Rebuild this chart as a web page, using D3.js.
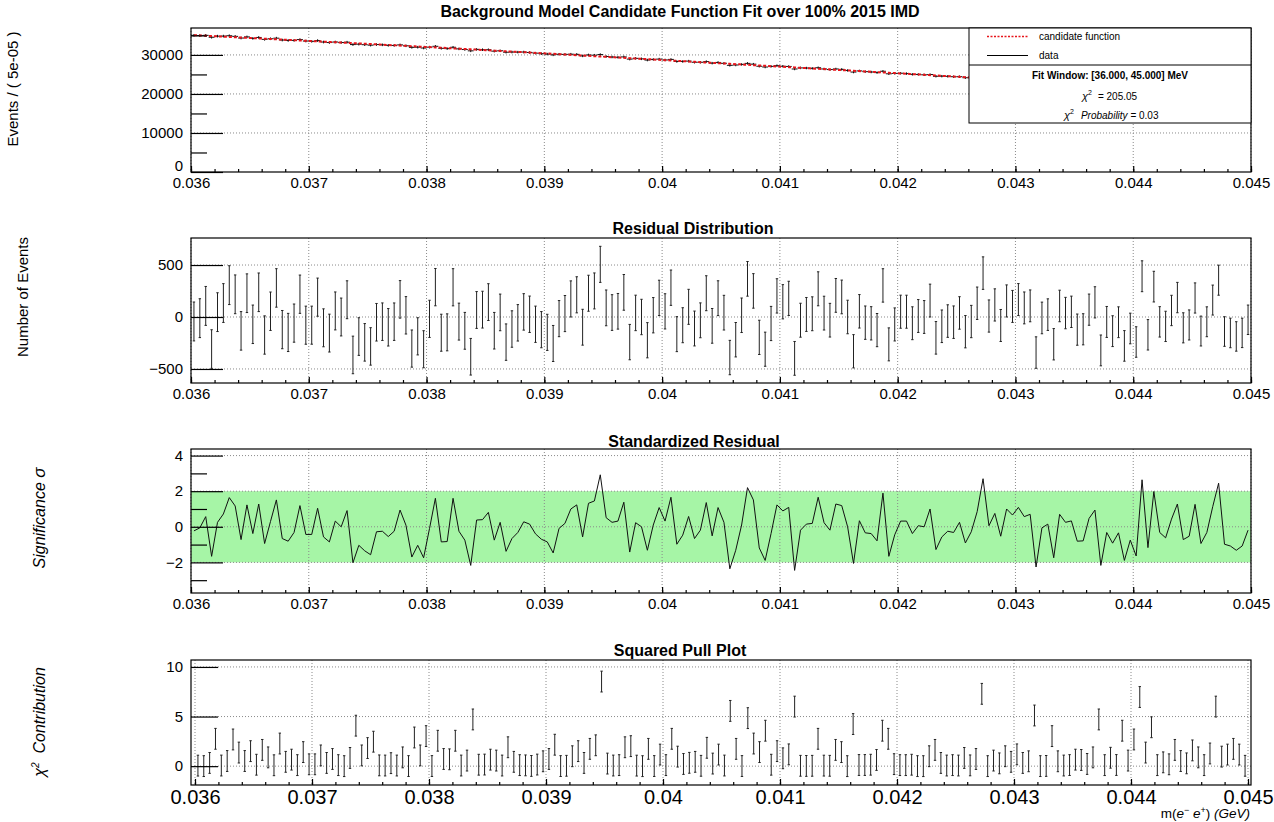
<!DOCTYPE html>
<html>
<head>
<meta charset="utf-8">
<script src="https://cdn.jsdelivr.net/npm/d3@7"></script>
<style>
  body { margin: 0; background: #fff; }
  text { font-family: "Liberation Sans", Arial, Helvetica, sans-serif; fill: #000; }
</style>
</head>
<body>
<div id="chart"></div>
<script>
// ---- data ----
const xMin = 0.036, xMax = 0.045, binWidth = 0.00005;

// events per bin (data), 180 bins of 5e-05 GeV
const counts = [
  35019, 34976, 35018, 34528, 34809, 34821, 34917, 34755, 34328, 34616, 34241, 34475, 33987, 34143, 34293, 33814, 33711, 33727, 33933, 33557,
  33483, 33672, 33303, 33175, 33309, 33174, 33261, 32653, 32753, 32620, 32502, 32658, 32586, 32454, 32431, 32569, 32337, 31936, 31978, 31774,
  31991, 32208, 31694, 31615, 31961, 31552, 31382, 31049, 31416, 31336, 31327, 30969, 31063, 30693, 30738, 30715, 30738, 30632, 30454, 30318,
  30213, 30022, 30173, 30135, 30189, 30143, 29751, 29989, 29926, 30092, 29595, 29466, 29393, 29489, 28925, 29122, 28998, 28687, 28845, 28928,
  28711, 28849, 28325, 28325, 28414, 28123, 28116, 28289, 27893, 28072, 27850, 27331, 27419, 27570, 27833, 27634, 27100, 26899, 27065, 27247,
  27101, 27048, 26394, 26672, 26642, 26564, 26715, 26400, 26247, 26399, 26300, 26023, 25606, 25908, 25713, 25622, 25471, 25817, 25161, 25271,
  25306, 25219, 25022, 25003, 24906, 24975, 24531, 24555, 24517, 24419, 24420, 24152, 24162, 24252, 24452, 23953, 23973, 23686, 23837, 23697,
  23671, 23505, 23437, 22903, 23147, 23092, 22718, 23000, 22844, 22769, 22509, 22425, 22527, 22511, 21953, 22146, 21967, 21968, 21646, 21731,
  21518, 22052, 21411, 21781, 21360, 21229, 21293, 21330, 20952, 20892, 21064, 20658, 20660, 20783, 20886, 20302, 20199, 20078, 20024, 20066
];

// standardized residual per bin (sigma)
const sigma = [
  -0.23, -0.06, 0.57, -1.66, 0.25, 0.72, 1.64, 1.17, -0.72, 1.23, -0.38, 1.28, -0.94, 0.30, 1.51, -0.66, -0.81, -0.32, 1.19, -0.43,
  -0.43, 1.04, -0.57, -0.85, 0.32, 0.00, 0.91, -2.02, -1.04, -1.35, -1.57, -0.28, -0.25, -0.55, -0.25, 0.94, 0.09, -1.70, -1.04, -1.74,
  -0.10, 1.60, -0.85, -0.83, 1.60, -0.25, -0.75, -2.17, 0.38, 0.40, 0.81, -0.75, 0.25, -1.38, -0.66, -0.32, 0.28, 0.15, -0.40, -0.70,
  -0.85, -1.47, -0.09, 0.19, 1.00, 1.23, -0.57, 1.32, 1.45, 2.92, 0.51, 0.25, 0.32, 1.38, -1.42, 0.23, 0.00, -1.32, 0.10, 1.08,
  0.32, 1.66, -0.98, -0.47, 0.58, -0.66, -0.19, 1.36, -0.51, 1.08, 0.25, -2.36, -1.32, 0.10, 2.20, 1.51, -1.19, -1.89, -0.38, 1.23,
  0.89, 1.09, -2.45, -0.19, 0.15, 0.19, 1.66, 0.23, -0.19, 1.28, 1.19, 0.00, -2.06, 0.34, -0.34, -0.38, -0.79, 1.89, -1.66, -0.45,
  0.32, 0.32, -0.38, 0.06, 0.00, 1.00, -1.28, -0.57, -0.25, -0.32, 0.25, -0.91, -0.28, 0.85, 2.70, 0.06, 0.75, -0.53, 1.00, 0.66,
  1.09, 0.57, 0.70, -2.26, -0.06, 0.15, -1.74, 0.70, 0.25, 0.33, -0.81, -0.79, 0.47, 0.94, -2.17, -0.32, -0.92, -0.34, -1.89, -0.75,
  -1.64, 2.64, -1.17, 1.98, -0.32, -0.62, 0.43, 1.28, -0.72, -0.53, 1.26, -0.94, -0.32, 1.13, 2.45, -0.98, -1.08, -1.32, -1.08, -0.19
];

const pullErr = 1.05;  // half length of the squared-pull error bars

const xTickValues = [0.036, 0.037, 0.038, 0.039, 0.040, 0.041, 0.042, 0.043, 0.044, 0.045];
const xTickLabels = ["0.036", "0.037", "0.038", "0.039", "0.04", "0.041", "0.042", "0.043", "0.044", "0.045"];

const fitYTicks = [0, 10000, 20000, 30000];
const fitYLabels = ["0", "10000", "20000", "30000"];
const fitYMinor = [5000, 15000, 25000, 35000];

const resYTicks = [-500, 0, 500];
const resYLabels = ["\u2212500", "0", "500"];

const sigYTicks = [-2, 0, 2, 4];
const sigYLabels = ["\u22122", "0", "2", "4"];
const sigYMinor = [-3, -1, 1, 3];

const pullYTicks = [0, 5, 10];
const pullYLabels = ["0", "5", "10"];

// ---- derived per-bin records ----
const bins = counts.map((c, i) => {
  const err = Math.sqrt(c);
  const res = sigma[i] * err;
  return {
    lo: xMin + i * binWidth,
    hi: xMin + (i + 1) * binWidth,
    x: xMin + (i + 0.5) * binWidth,
    count: c,
    err: err,
    fit: c - res,
    res: res,
    sig: sigma[i],
    pull: sigma[i] * sigma[i]
  };
});

// ---- layout ----
const W = 1274, H = 822;
const left = 191, right = 1251;

const svg = d3.select("#chart").append("svg")
  .attr("width", W).attr("height", H);

const x = d3.scaleLinear().domain([xMin, xMax]).range([left, right]);
const xPull = d3.scaleLinear().domain([xMin, xMax]).range([195, 1248]);

function grid(g, xs, y, top, bottom, yTicks) {
  g.append("g").selectAll("line").data(xTickValues).join("line")
    .attr("x1", d => xs(d)).attr("x2", d => xs(d))
    .attr("y1", top).attr("y2", bottom)
    .attr("stroke", "#8a8a8a").attr("stroke-dasharray", "1,2");
  g.append("g").selectAll("line").data(yTicks).join("line")
    .attr("x1", left).attr("x2", right)
    .attr("y1", d => y(d)).attr("y2", d => y(d))
    .attr("stroke", "#8a8a8a").attr("stroke-dasharray", "1,2");
}

function axes(g, xs, y, top, bottom, o) {
  // x minor ticks
  g.append("g").attr("transform", `translate(0,${bottom})`)
    .call(d3.axisBottom(xs).tickValues(d3.scaleLinear().domain([xMin, xMax]).ticks(45)).tickSize(-3).tickFormat(""))
    .call(a => a.select(".domain").remove());
  // x major ticks with labels
  g.append("g").attr("transform", `translate(0,${bottom})`)
    .call(d3.axisBottom(xs).tickValues(xTickValues).tickSize(-6).tickPadding(o.xPad)
      .tickFormat((d, i) => xTickLabels[i]))
    .call(a => a.select(".domain").remove())
    .call(a => a.selectAll("text").style("font-size", o.xFont + "px").attr("fill", "#000"));
  // y minor ticks
  if (o.yMinor) {
    g.append("g").attr("transform", `translate(${left},0)`)
      .call(d3.axisLeft(y).tickValues(o.yMinor).tickSize(-16).tickFormat(""))
      .call(a => a.select(".domain").remove());
  }
  // y major ticks with labels
  g.append("g").attr("class", "yaxis").attr("transform", `translate(${left},0)`)
    .call(d3.axisLeft(y).tickValues(o.yTicks).tickSize(-o.majorLen).tickPadding(8)
      .tickFormat((d, i) => o.yLabels[i]))
    .call(a => a.select(".domain").remove())
    .call(a => a.selectAll("text").style("font-size", "15px").attr("fill", "#000"));
  g.selectAll(".tick line").attr("stroke", "#000").attr("stroke-width", 1.2);
  // frame
  g.append("rect").attr("x", left).attr("y", top)
    .attr("width", right - left).attr("height", bottom - top)
    .attr("fill", "none").attr("stroke", "#000").attr("stroke-width", 1.2);
}

function title(txt, cx, baseline) {
  svg.append("text").attr("x", cx).attr("y", baseline)
    .attr("text-anchor", "middle").style("font-size", "16px").style("font-weight", "bold")
    .text(txt);
}

function yTitle(cx, cy) {
  return svg.append("text")
    .attr("transform", `translate(${cx},${cy}) rotate(-90)`)
    .attr("text-anchor", "middle").style("font-size", "15px");
}

function errorBars(g, xs, y, data, val, err, cap) {
  const sel = g.append("g").attr("stroke", "#222").attr("stroke-width", 1);
  sel.selectAll("line.v").data(data).join("line").attr("class", "v")
    .attr("x1", d => xs(d.x)).attr("x2", d => xs(d.x))
    .attr("y1", d => y(val(d) - err(d))).attr("y2", d => y(val(d) + err(d)));
  sel.selectAll("line.t").data(data).join("line").attr("class", "t")
    .attr("x1", d => xs(d.x) - cap).attr("x2", d => xs(d.x) + cap)
    .attr("y1", d => y(val(d) + err(d))).attr("y2", d => y(val(d) + err(d)));
  sel.selectAll("line.b").data(data).join("line").attr("class", "b")
    .attr("x1", d => xs(d.x) - cap).attr("x2", d => xs(d.x) + cap)
    .attr("y1", d => y(val(d) - err(d))).attr("y2", d => y(val(d) - err(d)));
}

// ---- panel 1: data + candidate function ----
{
  const top = 28, bottom = 172;
  const y = d3.scaleLinear().domain([0, 36900]).range([bottom, top]);
  const g = svg.append("g");
  grid(g, x, y, top, bottom, [10000, 20000, 30000]);

  const dg = g.append("g").attr("stroke", "#111").attr("stroke-width", 1);
  dg.selectAll("line.h").data(bins).join("line").attr("class", "h")
    .attr("x1", d => x(d.lo)).attr("x2", d => x(d.hi))
    .attr("y1", d => y(d.count)).attr("y2", d => y(d.count));
  dg.selectAll("line.v").data(bins).join("line").attr("class", "v")
    .attr("x1", d => x(d.x)).attr("x2", d => x(d.x))
    .attr("y1", d => y(d.count - d.err) + 0.6).attr("y2", d => y(d.count + d.err) - 0.6);

  g.append("path").datum(bins)
    .attr("d", d3.line().x(d => x(d.x)).y(d => y(d.fit)).curve(d3.curveMonotoneX))
    .attr("fill", "none").attr("stroke", "#e8151b").attr("stroke-width", 2)
    .attr("stroke-dasharray", "3,2");

  axes(g, x, y, top, bottom, { yTicks: fitYTicks, yLabels: fitYLabels, yMinor: fitYMinor, majorLen: 32, xFont: 15, xPad: 5 });
  // lift the y "0" label so it clears the first x label
  g.select(".yaxis").selectAll(".tick text").filter(function () { return this.textContent === "0"; }).attr("dy", "-0.12em");

  // legend
  const lg = svg.append("g");
  lg.append("rect").attr("x", 969).attr("y", 28).attr("width", 282).attr("height", 95)
    .attr("fill", "#fff").attr("stroke", "#000").attr("stroke-width", 1);
  lg.append("line").attr("x1", 969).attr("x2", 1251).attr("y1", 65).attr("y2", 65).attr("stroke", "#000");
  lg.append("line").attr("x1", 987).attr("x2", 1028).attr("y1", 36.5).attr("y2", 36.5)
    .attr("stroke", "#e8151b").attr("stroke-width", 1.5).attr("stroke-dasharray", "2,1.5");
  lg.append("line").attr("x1", 987).attr("x2", 1028).attr("y1", 55.5).attr("y2", 55.5)
    .attr("stroke", "#000").attr("stroke-width", 1);
  lg.append("text").attr("x", 1039).attr("y", 40).style("font-size", "10px").text("candidate function");
  lg.append("text").attr("x", 1039).attr("y", 59).style("font-size", "10px").text("data");
  lg.append("text").attr("x", 1110).attr("y", 79).attr("text-anchor", "middle")
    .style("font-size", "10px").style("font-weight", "bold").text("Fit Window: [36.000, 45.000] MeV");
  const c1 = lg.append("text").attr("x", 1082).attr("y", 100).style("font-size", "11px");
  c1.append("tspan").style("font-style", "italic").text("\u03c7");
  c1.append("tspan").attr("dy", -5).style("font-size", "7px").text("2");
  c1.append("tspan").attr("dy", 5).attr("dx", 6).style("font-size", "10px").text("= 205.05");
  const c2 = lg.append("text").attr("x", 1064).attr("y", 119).style("font-size", "11px");
  c2.append("tspan").style("font-style", "italic").text("\u03c7");
  c2.append("tspan").attr("dy", -5).style("font-size", "7px").text("2");
  c2.append("tspan").attr("dy", 5).attr("dx", 7).style("font-size", "10px").style("font-style", "italic").text("Probability");
  c2.append("tspan").style("font-size", "10px").text(" = 0.03");

  title("Background Model Candidate Function Fit over 100% 2015 IMD", 680, 17);
  yTitle(18, 89).text("Events / ( 5e-05 )");
}

// ---- panel 2: residual distribution ----
{
  const top = 238, bottom = 383;
  const y = d3.scaleLinear().domain([-635, 760]).range([bottom, top]);
  const g = svg.append("g");
  grid(g, x, y, top, bottom, resYTicks);
  errorBars(g, x, y, bins, d => d.res, d => d.err, 1.2);
  axes(g, x, y, top, bottom, { yTicks: resYTicks, yLabels: resYLabels, majorLen: 32, xFont: 15, xPad: 5 });
  title("Residual Distribution", 693, 234);
  yTitle(28, 297).text("Number of Events");
}

// ---- panel 3: standardized residual ----
{
  const top = 449, bottom = 593;
  const y = d3.scaleLinear().domain([-3.72, 4.37]).range([bottom, top]);
  const g = svg.append("g");
  g.append("rect").attr("x", left).attr("width", right - left)
    .attr("y", y(2)).attr("height", y(-2) - y(2)).attr("fill", "#a6f5a6");
  grid(g, x, y, top, bottom, sigYTicks);
  g.append("path").datum(bins)
    .attr("d", d3.line().x(d => x(d.x)).y(d => y(d.sig)))
    .attr("fill", "none").attr("stroke", "#111").attr("stroke-width", 1);
  axes(g, x, y, top, bottom, { yTicks: sigYTicks, yLabels: sigYLabels, yMinor: sigYMinor, majorLen: 32, xFont: 15, xPad: 5 });
  title("Standardized Residual", 694, 447);
  const t = yTitle(45, 518).style("font-style", "italic").style("font-size", "16px");
  t.append("tspan").text("Significance  ");
  t.append("tspan").style("font-size", "17px").text("\u03c3");
}

// ---- panel 4: squared pull ----
{
  const top = 660, bottom = 785;
  const y = d3.scaleLinear().domain([-1.9, 10.7]).range([bottom, top]);
  const g = svg.append("g");
  grid(g, xPull, y, top, bottom, pullYTicks);
  errorBars(g, xPull, y, bins, d => d.pull, d => pullErr, 1.2);
  axes(g, xPull, y, top, bottom, { yTicks: pullYTicks, yLabels: pullYLabels, majorLen: 27, xFont: 20, xPad: 5 });
  title("Squared Pull Plot", 680, 656);
  const t = yTitle(45, 722).style("font-style", "italic").style("font-size", "16px");
  t.append("tspan").text("\u03c7");
  t.append("tspan").attr("dy", -6).style("font-size", "10px").text("2");
  t.append("tspan").attr("dy", 6).attr("dx", 9).text("Contribution");

  const ax = svg.append("text").attr("x", 1250).attr("y", 818).attr("text-anchor", "end").style("font-size", "13.5px");
  ax.append("tspan").text("m(");
  ax.append("tspan").style("font-style", "italic").text("e");
  ax.append("tspan").attr("dy", -5).style("font-size", "9px").text("\u2212");
  ax.append("tspan").attr("dy", 5).text(" ");
  ax.append("tspan").style("font-style", "italic").text("e");
  ax.append("tspan").attr("dy", -5).style("font-size", "9px").text("+");
  ax.append("tspan").attr("dy", 5).text(")   ");
  ax.append("tspan").style("font-style", "italic").text("(GeV)");
}
</script>
</body>
</html>
